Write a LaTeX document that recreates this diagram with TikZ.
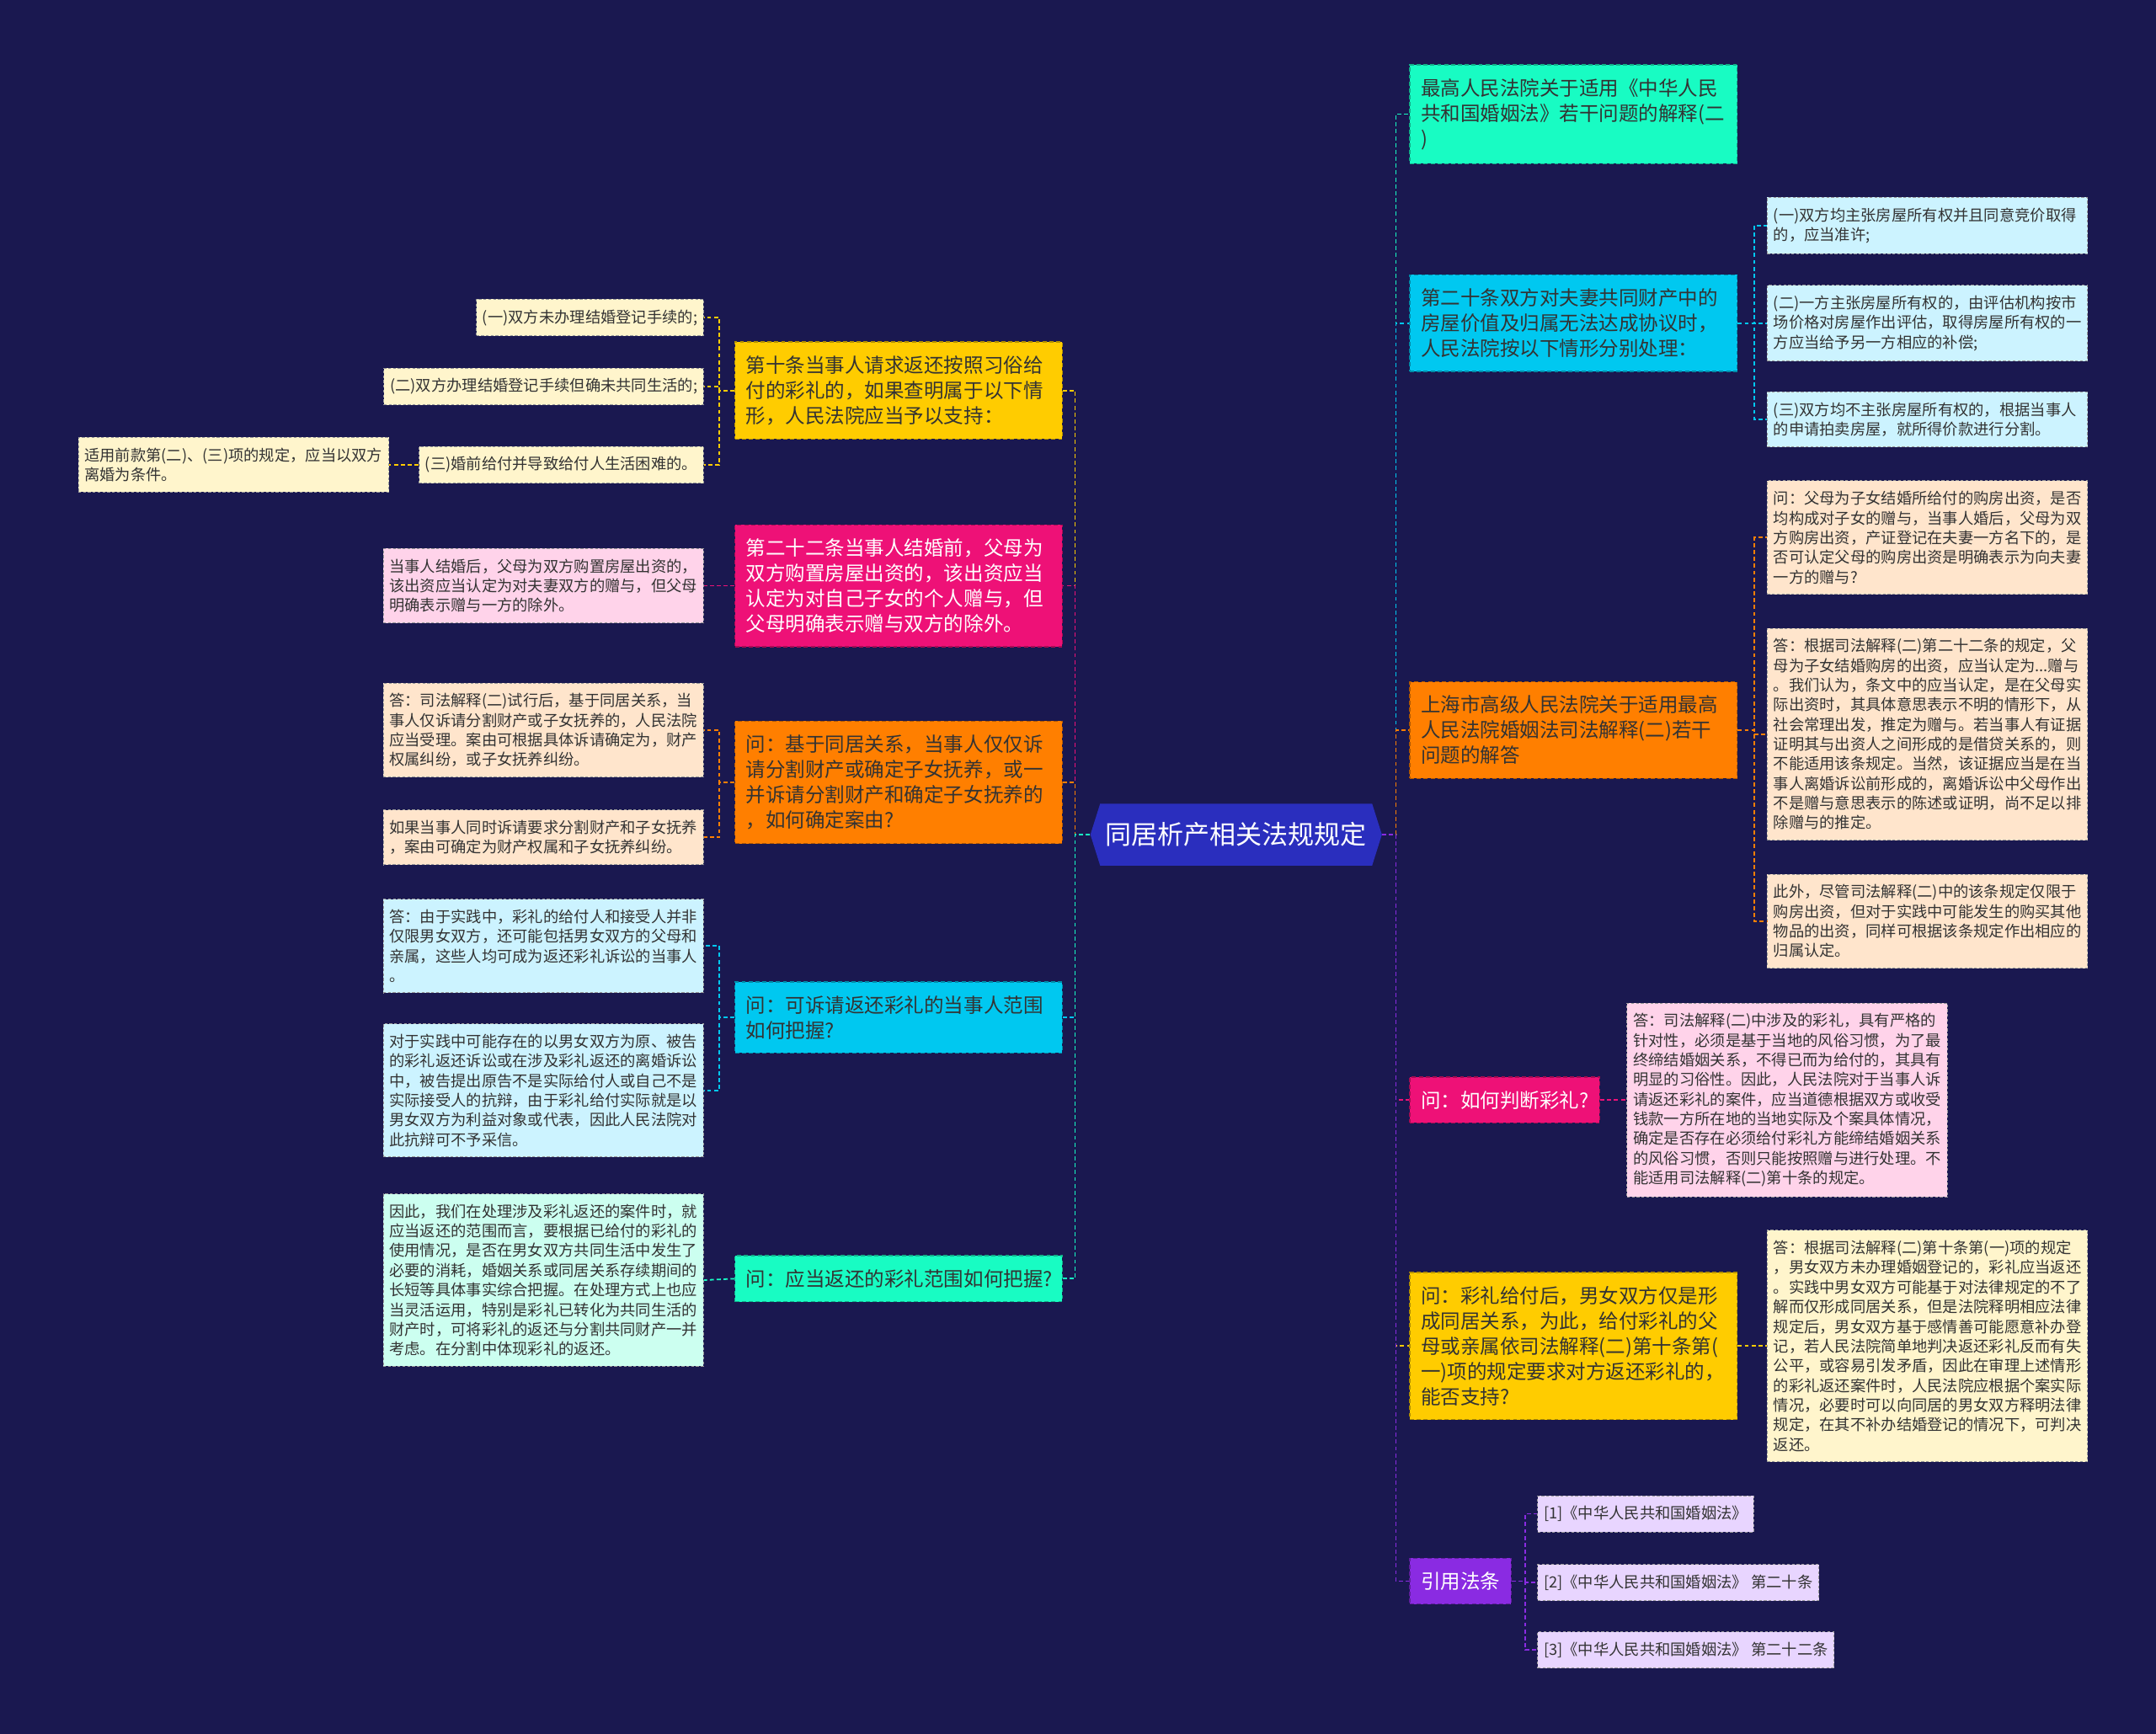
\documentclass[tikz,border=0pt]{standalone}
\usepackage{fontspec}
\setmainfont{Noto Sans CJK SC}
\usepackage{tikz}
\usetikzlibrary{positioning,shapes}

\definecolor{bgnavy}{HTML}{1A1850}
\definecolor{hubblue}{HTML}{2A2EBE}
\definecolor{cYellow}{HTML}{FFCC00}
\definecolor{cPink}{HTML}{EE1177}
\definecolor{cOrange}{HTML}{FF7F00}
\definecolor{cCyan}{HTML}{00C8F0}
\definecolor{cTeal}{HTML}{18FCC3}
\definecolor{cPurple}{HTML}{8A2BE2}
\definecolor{pYellow}{HTML}{FFF5CC}
\definecolor{pPink}{HTML}{FFD3EA}
\definecolor{pOrange}{HTML}{FFE5CC}
\definecolor{pCyan}{HTML}{CCF3FF}
\definecolor{pTeal}{HTML}{CCFFF0}
\definecolor{pPurple}{HTML}{E8D5FF}

\begin{document}
\begin{tikzpicture}[x=1pt,y=-1pt,
  hub/.style={signal, signal to=east and west, signal pointer angle=145,
    fill=hubblue, text=white, font=\fontsize{19}{22}\selectfont,
    minimum width=212pt, minimum height=45pt, inner sep=2pt},
  topic/.style={rectangle, fill=#1, draw=#1!70!black, dashed,
    dash pattern=on 3pt off 2pt, line width=0.8pt, inner xsep=8pt, inner ysep=10pt,
    align=left, font=\fontsize{14.4}{18.4}\selectfont, text=black!80},
  wide/.style={text width=222pt},
  leaf/.style={rectangle, fill=#1, draw=black!40, dashed,
    dash pattern=on 2pt off 1.5pt, line width=0.6pt, inner xsep=4.5pt, inner ysep=7.5pt,
    align=left, font=\fontsize{11.2}{14.3}\selectfont, text=black!80},
  leafw/.style={text width=224pt},
  conn/.style={draw=#1, dashed, dash pattern=on 3pt off 2pt, line width=1.1pt}]

% Background
\fill[bgnavy] (0,0) rectangle (1568,1261);
\useasboundingbox (0,0) rectangle (1568,1261);

% Root
\node[hub] (root) at (899,607) {同居析产相关法规规定};

% Left topics
\node[topic=cYellow, wide, anchor=east] (l1) at (773,284) {第十条当事人请求返还按照习俗给\\付的彩礼的，如果查明属于以下情\\形，人民法院应当予以支持：};
\node[topic=cPink, wide, anchor=east, text=white] (l2) at (773,426) {第二十二条当事人结婚前，父母为\\双方购置房屋出资的，该出资应当\\认定为对自己子女的个人赠与，但\\父母明确表示赠与双方的除外。};
\node[topic=cOrange, wide, anchor=east] (l3) at (773,569) {问：基于同居关系，当事人仅仅诉\\请分割财产或确定子女抚养，或一\\并诉请分割财产和确定子女抚养的\\，如何确定案由?};
\node[topic=cCyan, wide, anchor=east] (l4) at (773,740) {问：可诉请返还彩礼的当事人范围\\如何把握?};
\node[topic=cTeal, wide, anchor=east] (l5) at (773,930) {问：应当返还的彩礼范围如何把握?};

% Left leaves
\node[leaf=pYellow, anchor=east] (l1a) at (512,231) {(一)双方未办理结婚登记手续的;};
\node[leaf=pYellow, anchor=east] (l1b) at (512,281) {(二)双方办理结婚登记手续但确未共同生活的;};
\node[leaf=pYellow, anchor=east] (l1c) at (512,338) {(三)婚前给付并导致给付人生活困难的。};
\node[leaf=pYellow, anchor=east] (l1c1) at (283,338) {适用前款第(二)、(三)项的规定，应当以双方\\离婚为条件。};
\node[leaf=pPink, leafw, anchor=east] (l2a) at (512,426) {当事人结婚后，父母为双方购置房屋出资的，\\该出资应当认定为对夫妻双方的赠与，但父母\\明确表示赠与一方的除外。};
\node[leaf=pOrange, leafw, anchor=east] (l3a) at (512,531) {答：司法解释(二)试行后，基于同居关系，当\\事人仅诉请分割财产或子女抚养的，人民法院\\应当受理。案由可根据具体诉请确定为，财产\\权属纠纷，或子女抚养纠纷。};
\node[leaf=pOrange, leafw, anchor=east] (l3b) at (512,609) {如果当事人同时诉请要求分割财产和子女抚养\\，案由可确定为财产权属和子女抚养纠纷。};
\node[leaf=pCyan, leafw, anchor=east] (l4a) at (512,688) {答：由于实践中，彩礼的给付人和接受人并非\\仅限男女双方，还可能包括男女双方的父母和\\亲属，这些人均可成为返还彩礼诉讼的当事人\\。};
\node[leaf=pCyan, leafw, anchor=east] (l4b) at (512,793) {对于实践中可能存在的以男女双方为原、被告\\的彩礼返还诉讼或在涉及彩礼返还的离婚诉讼\\中，被告提出原告不是实际给付人或自己不是\\实际接受人的抗辩，由于彩礼给付实际就是以\\男女双方为利益对象或代表，因此人民法院对\\此抗辩可不予采信。};
\node[leaf=pTeal, leafw, anchor=east] (l5a) at (512,931) {因此，我们在处理涉及彩礼返还的案件时，就\\应当返还的范围而言，要根据已给付的彩礼的\\使用情况，是否在男女双方共同生活中发生了\\必要的消耗，婚姻关系或同居关系存续期间的\\长短等具体事实综合把握。在处理方式上也应\\当灵活运用，特别是彩礼已转化为共同生活的\\财产时，可将彩礼的返还与分割共同财产一并\\考虑。在分割中体现彩礼的返还。};

% Right topics
\node[topic=cTeal, wide, anchor=west] (r1) at (1025,83) {最高人民法院关于适用《中华人民\\共和国婚姻法》若干问题的解释(二\\)};
\node[topic=cCyan, wide, anchor=west] (r2) at (1025,235) {第二十条双方对夫妻共同财产中的\\房屋价值及归属无法达成协议时，\\人民法院按以下情形分别处理：};
\node[topic=cOrange, wide, anchor=west] (r3) at (1025,531) {上海市高级人民法院关于适用最高\\人民法院婚姻法司法解释(二)若干\\问题的解答};
\node[topic=cPink, anchor=west, text=white] (r4) at (1025,800) {问：如何判断彩礼?};
\node[topic=cYellow, wide, anchor=west] (r5) at (1025,979) {问：彩礼给付后，男女双方仅是形\\成同居关系，为此，给付彩礼的父\\母或亲属依司法解释(二)第十条第(\\一)项的规定要求对方返还彩礼的，\\能否支持?};
\node[topic=cPurple, anchor=west, text=white] (r6) at (1025,1150) {引用法条};

% Right leaves
\node[leaf=pCyan, leafw, anchor=west] (r2a) at (1285,164) {(一)双方均主张房屋所有权并且同意竞价取得\\的，应当准许;};
\node[leaf=pCyan, leafw, anchor=west] (r2b) at (1285,235) {(二)一方主张房屋所有权的，由评估机构按市\\场价格对房屋作出评估，取得房屋所有权的一\\方应当给予另一方相应的补偿;};
\node[leaf=pCyan, leafw, anchor=west] (r2c) at (1285,305) {(三)双方均不主张房屋所有权的，根据当事人\\的申请拍卖房屋，就所得价款进行分割。};
\node[leaf=pOrange, leafw, anchor=west] (r3a) at (1285,391) {问：父母为子女结婚所给付的购房出资，是否\\均构成对子女的赠与，当事人婚后，父母为双\\方购房出资，产证登记在夫妻一方名下的，是\\否可认定父母的购房出资是明确表示为向夫妻\\一方的赠与?};
\node[leaf=pOrange, leafw, anchor=west] (r3b) at (1285,534) {答：根据司法解释(二)第二十二条的规定，父\\母为子女结婚购房的出资，应当认定为...赠与\\。我们认为，条文中的应当认定，是在父母实\\际出资时，其具体意思表示不明的情形下，从\\社会常理出发，推定为赠与。若当事人有证据\\证明其与出资人之间形成的是借贷关系的，则\\不能适用该条规定。当然，该证据应当是在当\\事人离婚诉讼前形成的，离婚诉讼中父母作出\\不是赠与意思表示的陈述或证明，尚不足以排\\除赠与的推定。};
\node[leaf=pOrange, leafw, anchor=west] (r3c) at (1285,670) {此外，尽管司法解释(二)中的该条规定仅限于\\购房出资，但对于实践中可能发生的购买其他\\物品的出资，同样可根据该条规定作出相应的\\归属认定。};
\node[leaf=pPink, leafw, anchor=west] (r4a) at (1183,800) {答：司法解释(二)中涉及的彩礼，具有严格的\\针对性，必须是基于当地的风俗习惯，为了最\\终缔结婚姻关系，不得已而为给付的，其具有\\明显的习俗性。因此，人民法院对于当事人诉\\请返还彩礼的案件，应当道德根据双方或收受\\钱款一方所在地的当地实际及个案具体情况，\\确定是否存在必须给付彩礼方能缔结婚姻关系\\的风俗习惯，否则只能按照赠与进行处理。不\\能适用司法解释(二)第十条的规定。};
\node[leaf=pYellow, leafw, anchor=west] (r5a) at (1285,979) {答：根据司法解释(二)第十条第(一)项的规定\\，男女双方未办理婚姻登记的，彩礼应当返还\\。实践中男女双方可能基于对法律规定的不了\\解而仅形成同居关系，但是法院释明相应法律\\规定后，男女双方基于感情善可能愿意补办登\\记，若人民法院简单地判决返还彩礼反而有失\\公平，或容易引发矛盾，因此在审理上述情形\\的彩礼返还案件时，人民法院应根据个案实际\\情况，必要时可以向同居的男女双方释明法律\\规定，在其不补办结婚登记的情况下，可判决\\返还。};
\node[leaf=pPurple, anchor=west] (r6a) at (1118,1101) {[1]《中华人民共和国婚姻法》};
\node[leaf=pPurple, anchor=west] (r6b) at (1118,1151) {[2]《中华人民共和国婚姻法》 第二十条};
\node[leaf=pPurple, anchor=west] (r6c) at (1118,1200) {[3]《中华人民共和国婚姻法》 第二十二条};

% Connectors, root to topics
\draw[conn=cYellow] (root.west) -- ++(-11,0) |- (l1.east);
\draw[conn=cPink] (root.west) -- ++(-11,0) |- (l2.east);
\draw[conn=cOrange] (root.west) -- ++(-11,0) |- (l3.east);
\draw[conn=cCyan] (root.west) -- ++(-11,0) |- (l4.east);
\draw[conn=cTeal] (root.west) -- ++(-11,0) |- (l5.east);
\draw[conn=cTeal] (root.east) -- ++(10,0) |- (r1.west);
\draw[conn=cCyan] (root.east) -- ++(10,0) |- (r2.west);
\draw[conn=cOrange] (root.east) -- ++(10,0) |- (r3.west);
\draw[conn=cPink] (root.east) -- ++(10,0) |- (r4.west);
\draw[conn=cYellow] (root.east) -- ++(10,0) |- (r5.west);
\draw[conn=cPurple] (root.east) -- ++(10,0) |- (r6.west);

% Connectors, topics to leaves
\foreach \leafname in {l1a,l1b,l1c}
  \draw[conn=cYellow] (l1.west) -- ++(-11,0) |- (\leafname.east);
\draw[conn=cYellow] (l1c.west) -- (l1c1.east);
\draw[conn=cPink] (l2.west) -- (l2a.east);
\foreach \leafname in {l3a,l3b}
  \draw[conn=cOrange] (l3.west) -- ++(-11,0) |- (\leafname.east);
\foreach \leafname in {l4a,l4b}
  \draw[conn=cCyan] (l4.west) -- ++(-11,0) |- (\leafname.east);
\draw[conn=cTeal] (l5.west) -- (l5a.east);
\foreach \leafname in {r2a,r2b,r2c}
  \draw[conn=cCyan] (r2.east) -- ++(12,0) |- (\leafname.west);
\foreach \leafname in {r3a,r3b,r3c}
  \draw[conn=cOrange] (r3.east) -- ++(12,0) |- (\leafname.west);
\draw[conn=cPink] (r4.east) -- (r4a.west);
\draw[conn=cYellow] (r5.east) -- (r5a.west);
\foreach \leafname in {r6a,r6b,r6c}
  \draw[conn=cPurple] (r6.east) -- ++(10,0) |- (\leafname.west);
\end{tikzpicture}
\end{document}
